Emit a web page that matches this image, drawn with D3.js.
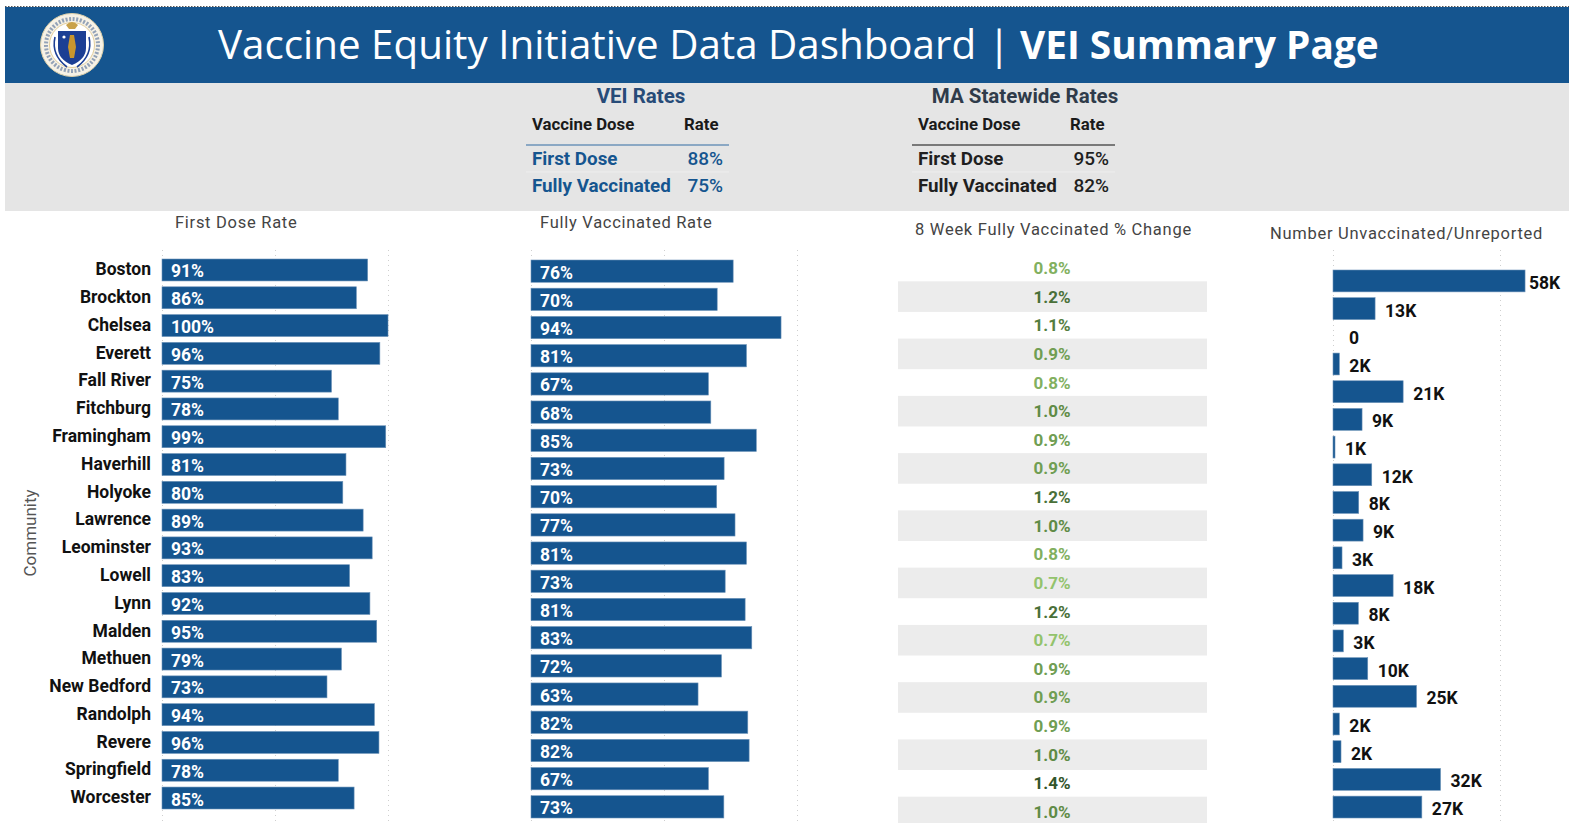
<!DOCTYPE html>
<html>
<head>
<meta charset="utf-8">
<script src="https://d3js.org/d3.v7.min.js"></script>
<style>
  html, body { margin: 0; padding: 0; background: #fff; overflow: hidden; }
  text { font-family: Roboto, "Open Sans", sans-serif; }
</style>
</head>
<body>
<script>
const width = 1569, height = 823;

const communities = ["Boston","Brockton","Chelsea","Everett","Fall River","Fitchburg","Framingham","Haverhill","Holyoke","Lawrence","Leominster","Lowell","Lynn","Malden","Methuen","New Bedford","Randolph","Revere","Springfield","Worcester"];
const firstDose = [91,86,100,96.4,75,78,99,81.4,80,89,93,83,92,95,79.4,73,94,96,78,85];
const fullyVaccinated = [76,70,94,81,66.7,67.6,84.7,72.6,69.8,76.7,81,73,80.5,83,71.6,62.8,81.5,82,66.7,72.5];
const weekChange = [0.8,1.2,1.1,0.9,0.8,1.0,0.9,0.9,1.2,1.0,0.8,0.7,1.2,0.7,0.9,0.9,0.9,1.0,1.4,1.0];
const unvaccinated = [57.5,12.6,0,1.9,21,8.7,0.6,11.6,7.7,9,2.7,18,7.6,3.1,10.4,25,1.9,2.4,32.2,26.6];

const doseNames = ["First Dose","Fully Vaccinated"];
const veiRates = ["88%","75%"];
const maRates = ["95%","82%"];

const BLUE = "#15558f";

let svg = d3.select("body").append("svg")
    .attr("width", width)
    .attr("height", height)
    .style("display", "block");

// header + grey band
svg.append("rect").attr("x",5).attr("y",83).attr("width",width-5).attr("height",128).attr("fill","#e5e5e5");
svg.append("rect").attr("x",5).attr("y",7).attr("width",width-5).attr("height",76).attr("fill",BLUE);
svg.append("line").attr("x1",5).attr("x2",width).attr("y1",6.5).attr("y2",6.5)
    .attr("stroke","#555").attr("stroke-dasharray","1.5 1.5");

let title = svg.append("text").attr("x",218).attr("y",59).attr("fill","#fff")
    .style("font-family","'Open Sans', sans-serif").style("font-size","40.35px");
title.append("tspan").text("Vaccine Equity Initiative Data Dashboard");
title.append("tspan").attr("x",988).attr("font-weight",400).text("|");
title.append("tspan").attr("x",1020).attr("font-weight",700).style("font-size","38.8px").text("VEI Summary Page");

// seal, drawn by hand
let seal = svg.append("g").attr("transform","translate(72,45)");
seal.append("circle").attr("r",31.5).attr("fill","#f7f2e6").attr("stroke","#dccfa9").attr("stroke-width",1);
seal.append("circle").attr("r",26).attr("fill","none").attr("stroke","#41608f").attr("stroke-width",4).attr("stroke-dasharray","2 1.6").attr("opacity",.55);
seal.append("circle").attr("r",22.5).attr("fill","#fff").attr("stroke","#e3cf9c").attr("stroke-width",1);
seal.append("path").attr("d","M-14,-14 L14,-14 L14,3 Q14,14 0,20 Q-14,14 -14,3 Z").attr("fill","#1c3f94");
seal.append("path").attr("d","M-17,-8 Q-21,10 -5,22 M17,-8 Q21,10 5,22").attr("fill","none").attr("stroke","#1c3f94").attr("stroke-width",1.6);
seal.append("path").attr("d","M-2,-10 L2,-10 L4,2 L2,13 L-2,13 L-4,2 Z").attr("fill","#c9962e");
seal.append("circle").attr("cx",-8).attr("cy",-8).attr("r",1.6).attr("fill","#fff");
seal.append("path").attr("d","M-6,-20 Q0,-26 6,-20 L3,-16 L-3,-16 Z").attr("fill","#c9a24a");

// summary tables
function drawSummary(x0, lineX0, lineX1, titleX, heading, names, rates, color, ruleColor) {
    svg.append("text").attr("x",titleX).attr("y",103).attr("text-anchor","middle")
        .attr("font-weight",700).attr("font-size",20.5).attr("fill",color === BLUE ? "#274b78" : "#2f3b4a").text(heading);
    svg.append("text").attr("x",x0).attr("y",130).attr("font-weight",700).attr("font-size",16.8).attr("fill","#1a1a1a").text("Vaccine Dose");
    svg.append("text").attr("x",x0+152).attr("y",130).attr("font-weight",700).attr("font-size",16.8).attr("fill","#1a1a1a").text("Rate");
    svg.append("line").attr("x1",lineX0).attr("x2",lineX1).attr("y1",145).attr("y2",145).attr("stroke",ruleColor).attr("stroke-width",1.4);
    svg.append("line").attr("x1",lineX0).attr("x2",lineX1).attr("y1",172).attr("y2",172).attr("stroke","#eeeeee").attr("stroke-width",1);
    svg.selectAll(null).data(names).join("text")
        .attr("x",x0).attr("y",(d,i) => 165+i*26.5)
        .attr("font-weight",700).attr("font-size",18.8).attr("fill",color).text(d => d);
    svg.selectAll(null).data(rates).join("text")
        .attr("x",x0+191).attr("y",(d,i) => 165+i*26.5).attr("text-anchor","end")
        .attr("font-weight",500).attr("font-size",19).attr("fill",color).text(d => d);
}
drawSummary(532, 526, 729, 641, "VEI Rates", doseNames, veiRates, BLUE, "#6d93b8");
drawSummary(918, 912, 1115, 1025, "MA Statewide Rates", doseNames, maRates, "#1f1f1f", "#555");

// chart headings
function heading(x, y, txt) {
    svg.append("text").attr("x",x).attr("y",y).attr("font-size",16.5).attr("fill","#444")
        .style("letter-spacing","0.72px").text(txt);
}
heading(175, 228, "First Dose Rate");
heading(540, 228, "Fully Vaccinated Rate");
heading(915, 235, "8 Week Fully Vaccinated % Change");
heading(1270, 239, "Number Unvaccinated/Unreported");

svg.append("text").attr("transform","translate(36,533) rotate(-90)").attr("text-anchor","middle")
    .attr("font-size",17).attr("fill","#555").text("Community");

// one horizontal bar panel
function drawBars(x0, x1, domain, ticks, top, bottom, values, inside, fmt) {
    let x = d3.scaleLinear().domain(domain).range([x0, x1]);
    let y = d3.scaleBand().domain(communities).range([top, bottom]).paddingInner(0.21).paddingOuter(0);

    let grid = svg.append("g").attr("transform","translate(0,250)")
        .call(d3.axisBottom(x).tickValues(ticks).tickSize(height-250).tickFormat(""));
    grid.select(".domain").remove();
    grid.selectAll("line").attr("stroke","#cfcfcf").attr("stroke-dasharray","1 4");

    svg.append("g").selectAll("rect")
        .data(values)
        .join("rect")
            .attr("x", x0)
            .attr("y", (d,i) => y(communities[i]))
            .attr("width", d => x(d)-x0)
            .attr("height", y.bandwidth())
            .attr("fill", BLUE)
            .attr("stroke", "#6d93b8")
            .attr("stroke-width", d => d > 0 ? 0.6 : 0);

    svg.append("g").selectAll("text")
        .data(values)
        .join("text")
            // labels outside the bar get pushed back in at the right edge, 0 sits further out
            .attr("x", d => inside ? x0+9 : (d === 0 ? x0+16 : Math.min(x(d)+10, 1529)))
            .attr("y", (d,i) => y(communities[i]) + y.bandwidth()/2 + (inside ? 7.5 : 8))
            .attr("font-weight", 700)
            .attr("font-size", 17.5)
            .attr("fill", inside ? "#fff" : "#111")
            .text(fmt);
    return y;
}

let pct = d => Math.round(d) + "%";
let yFirst = drawBars(162, 388, [0,100], [0,50,100], 259, 809, firstDose, true, pct);
drawBars(531, 797, [0,100], [0,50,100], 260, 818, fullyVaccinated, true, pct);
drawBars(1333, 1500, [0,50], [0,50], 270, 818, unvaccinated, false, d => d === 0 ? "0" : Math.round(d) + "K");

// community axis
let axisLeft = svg.append("g").attr("transform","translate(151,0)")
    .call(d3.axisLeft(yFirst).tickSize(0).tickPadding(0));
axisLeft.select(".domain").remove();
axisLeft.selectAll("text").attr("font-size",17.5).attr("font-weight",700).attr("fill","#111")
    .style("font-family","Roboto, sans-serif").attr("dy","0.3em");

// % change table
let rowY = d3.scalePoint().domain(communities).range([268, 812]);
let green = d3.scaleLinear().domain([0.7,1.0,1.4]).range(["#93c36c","#5f8b46","#33552b"]);

svg.append("g").selectAll("rect")
    .data(communities.filter((d,i) => i%2 === 1))
    .join("rect")
        .attr("x",898).attr("width",309)
        .attr("y", d => rowY(d)-15.3)
        .attr("height",30.6)
        .attr("fill","#ececec");

svg.append("g").selectAll("text")
    .data(weekChange)
    .join("text")
        .attr("x",1052)
        .attr("y",(d,i) => rowY(communities[i])+6)
        .attr("text-anchor","middle")
        .attr("font-size",17)
        .attr("font-weight",700)
        .attr("fill",d => green(d))
        .text(d => d.toFixed(1) + "%");
</script>
</body>
</html>
